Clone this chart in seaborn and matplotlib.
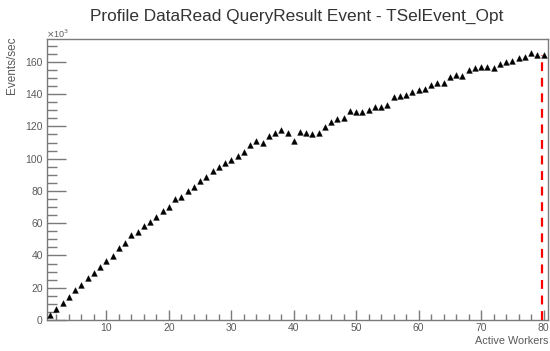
import matplotlib
matplotlib.use("Agg")
import matplotlib.pyplot as plt
import seaborn as sns
import pandas as pd
import numpy as np
from matplotlib.ticker import MultipleLocator

# ---- data (Events/sec in units of 10^3) ----
workers = list(range(1, 81))
events_k = [
    3.1, 6.8, 10.7, 14.5, 18.5, 21.5, 26.0, 29.0, 33.0, 36.5,
    39.5, 44.5, 48.0, 52.5, 54.5, 58.5, 61.0, 63.8, 67.5, 70.0,
    75.0, 76.5, 80.0, 82.6, 86.3, 88.4, 92.5, 95.0, 97.5, 99.1,
    101.6, 104.0, 108.4, 111.0, 109.5, 114.0, 116.0, 117.5, 116.0, 111.0,
    116.7, 115.7, 115.0, 116.0, 119.8, 122.9, 124.3, 125.0, 129.5, 128.7,
    129.0, 130.0, 132.2, 132.2, 133.2, 138.4, 139.0, 139.3, 141.5, 142.5,
    143.5, 145.6, 146.7, 147.0, 150.4, 151.8, 151.2, 154.9, 156.3, 156.9,
    156.9, 156.3, 158.6, 159.7, 160.5, 162.1, 163.1, 165.2, 164.2, 164.5,
]
max_workers = 79.8
max_rate = 164.0

title = "Profile DataRead QueryResult Event - TSelEvent_Opt"
xlabel = "Active Workers"
ylabel = "Events/sec"

df = pd.DataFrame({"workers": workers, "events": events_k})

sns.set_style("white")
plt.rcParams["font.family"] = ["Liberation Sans", "DejaVu Sans"]

fig = plt.figure(figsize=(5.5, 3.51), dpi=100)
ax = fig.add_axes([47 / 550, 1 - 320 / 351, (548 - 47) / 550, (320 - 39.3) / 351])

sns.scatterplot(data=df, x="workers", y="events", ax=ax, marker="^",
                color="black", s=17, edgecolor="black", linewidth=0.3, zorder=3)

ax.plot([max_workers, max_workers], [0, max_rate], color="#ff0000",
        linestyle=(0, (4, 3)), linewidth=1.6, zorder=4)

ax.set_xlim(0.5, 80.7)
ax.set_ylim(0, 174)

frame_col = "#7a7a7a"
for sp in ax.spines.values():
    sp.set_color(frame_col)
    sp.set_linewidth(1.0)

ax.xaxis.set_major_locator(MultipleLocator(10))
ax.xaxis.set_minor_locator(MultipleLocator(2))
ax.yaxis.set_major_locator(MultipleLocator(20))
ax.yaxis.set_minor_locator(MultipleLocator(5))

lab_col = "#5a5a5a"
ax.tick_params(axis="x", which="major", direction="in", length=7, width=1,
               color=frame_col, labelsize=7.5, labelcolor=lab_col, pad=2)
ax.tick_params(axis="x", which="minor", direction="in", length=4, width=1,
               color=frame_col)
ax.tick_params(axis="y", which="major", direction="in", length=14, width=1,
               color=frame_col, labelsize=7.5, labelcolor=lab_col, pad=3)
ax.tick_params(axis="y", which="minor", direction="in", length=7, width=1,
               color=frame_col)
ax.tick_params(bottom=True, left=True, top=False, right=False)
ax.tick_params(which="minor", bottom=True, left=True, top=False, right=False)

ax.set_xlabel("")
ax.set_ylabel("")

fig.text(297 / 550, 1 - 16 / 351, title, ha="center", va="center",
         fontsize=12.4, color="#333333")
fig.text(548 / 550, 1 - 341 / 351, xlabel, ha="right", va="center",
         fontsize=7.8, color=lab_col)
fig.text(12 / 550, 1 - 37 / 351, ylabel, ha="center", va="top", rotation=90,
         fontsize=8.5, color=lab_col)
fig.text(46 / 550, 1 - 33.5 / 351, r"$\times$10$^{3}$", ha="left", va="center",
         fontsize=6.5, color=lab_col)

fig.savefig("out.png", dpi=100)
